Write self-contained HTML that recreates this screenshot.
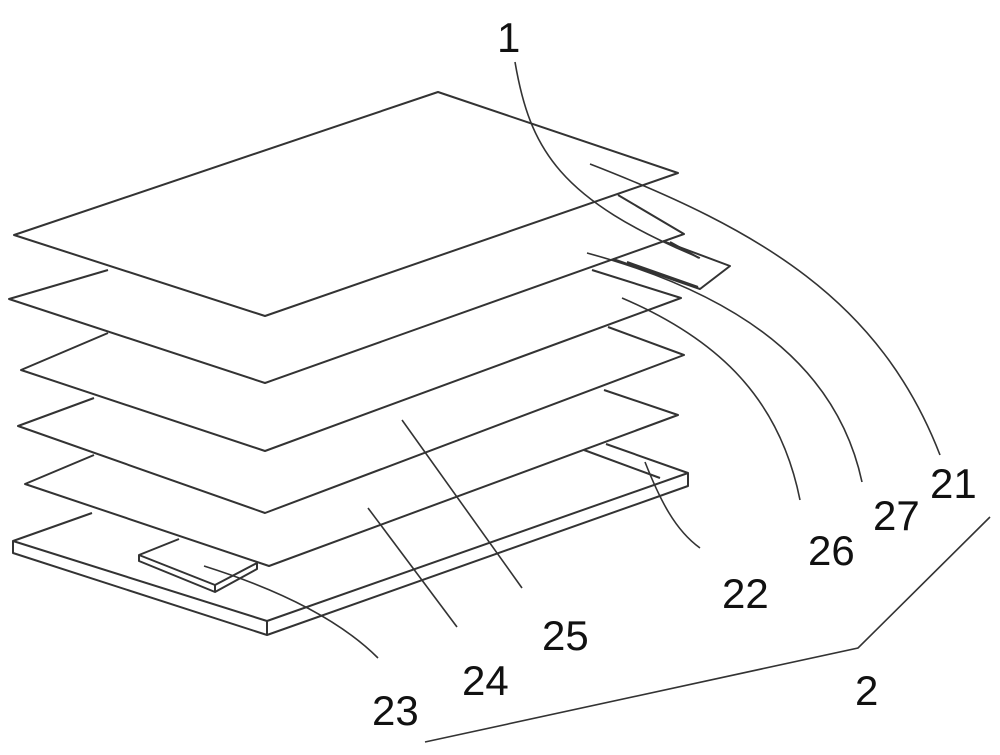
<!DOCTYPE html>
<html><head><meta charset="utf-8"><style>
html,body{margin:0;padding:0;background:#fff;}
svg{display:block}
text{font-family:"Liberation Sans",sans-serif;font-size:42px;fill:#111}
</style></head><body>
<svg width="1000" height="755" viewBox="0 0 1000 755" xmlns="http://www.w3.org/2000/svg">
<g fill="none" stroke="#333" stroke-width="2" stroke-linejoin="round">
<polygon points="14,235 438,92 678,173 265,316"/>
<polyline points="108,270 9,299 265,383 684,234 618,195"/>
<polyline points="663,241 730,266 700,289 613,259"/>
<line x1="670" y1="242" x2="699" y2="258"/>
<line x1="627" y1="262" x2="698" y2="287"/>
<polyline points="108,333 21,370 265,451 681,298 592,270"/>
<polyline points="94,398 18,426 265,513 684,355 608,327"/>
<polyline points="94,455 25,484 269,566 678,415 604,390"/>
<polyline points="92,513 13,541 267,621 688,473 606,444"/>
<polyline points="13,541 13,553 267,635 688,486 688,473"/>
<line x1="267" y1="621" x2="267" y2="635"/>
<line x1="584" y1="450" x2="660" y2="478"/>
<polyline points="179,539 139,555 215,585 257,563"/>
<polyline points="139,555 139,561 215,592 257,569 257,563"/>
<line x1="215" y1="585" x2="215" y2="592"/>
</g>
<g fill="none" stroke="#333" stroke-width="1.6">
<path d="M515,62 C530,150 560,200 700,258"/>
<path d="M590,164 C760,230 880,300 940,455"/>
<path d="M587,253 C760,300 840,380 862,482"/>
<path d="M622,298 C720,340 780,400 800,500"/>
<path d="M645,462 C660,500 675,530 700,548"/>
<line x1="402" y1="420" x2="522" y2="588"/>
<line x1="368" y1="508" x2="457" y2="627"/>
<path d="M204,566 C280,590 340,620 378,658"/>
<polyline points="990,517 858,648 425,742"/>
</g>
<text x="497" y="52">1</text>
<text x="930" y="498">21</text>
<text x="873" y="530">27</text>
<text x="808" y="565">26</text>
<text x="722" y="608">22</text>
<text x="542" y="650">25</text>
<text x="462" y="695">24</text>
<text x="372" y="725">23</text>
<text x="855" y="705">2</text>
</svg>
</body></html>
